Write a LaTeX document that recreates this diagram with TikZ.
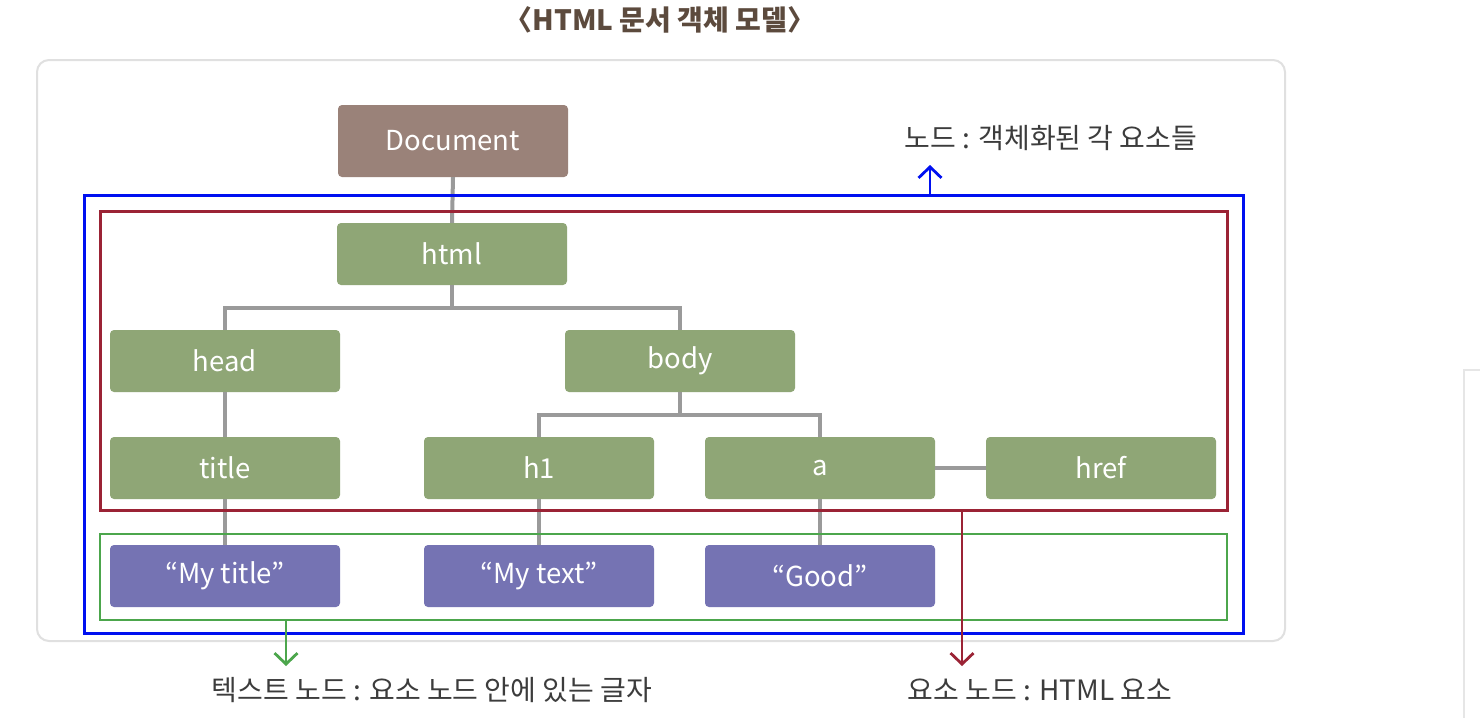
\documentclass[tikz,border=0pt]{standalone}
\usepackage{fontspec}
\setmainfont{Noto Sans CJK KR}
\usetikzlibrary{arrows.meta}
\definecolor{gnode}{HTML}{8FA676}
\definecolor{pnode}{HTML}{7573B3}
\definecolor{dnode}{HTML}{9A8279}
\definecolor{conn}{HTML}{9A9A9A}
\definecolor{frameblue}{HTML}{0010F0}
\definecolor{framered}{HTML}{9B2335}
\definecolor{framegreen}{HTML}{4CA64C}
\definecolor{titlebrown}{HTML}{5C4A3D}
\definecolor{labelgray}{HTML}{3C3C3C}
\definecolor{panelgray}{HTML}{E0E0E0}
\tikzset{
  box/.style={rounded corners=4pt, minimum width=230pt, minimum height=62pt, inner sep=0pt, text=white, font=\fontsize{27.5}{32}\selectfont},
  elem/.style={box, fill=gnode},
  txt/.style={box, fill=pnode},
  docbox/.style={box, fill=dnode, minimum height=72pt},
  link/.style={draw=conn, line width=4pt},
  note/.style={text=labelgray, font=\fontsize{28}{32}\selectfont, inner sep=0pt},
  tip/.style={-{Straight Barb[length=11pt,width=23pt,line width=2.8pt]}}
}
\begin{document}
\begin{tikzpicture}[x=1pt,y=-1pt]
\useasboundingbox (0,0) rectangle (1480,718);
\fill[white] (0,0) rectangle (1480,718);
% panel
\draw[panelgray, line width=2pt, rounded corners=12pt] (37,60) rectangle (1285,641);
\draw[panelgray!80, line width=2pt] (1480,370) -- (1464,370) -- (1464,718);
% title
\node[text=titlebrown, font=\fontsize{28}{32}\selectfont\bfseries, inner sep=0pt] (ttl) at (660,20) {〈HTML 문서 객체 모델〉};
% nodes
\node[docbox] (doc) at (453,141) {Document};
\node[elem] (html) at (452,254) {html};
\node[elem] (head) at (225,361) {head};
\node[elem] (body) at (680,361) {body};
\node[elem] (title) at (225,468) {title};
\node[elem] (h1) at (539,468) {h1};
\node[elem] (a) at (820,468) {a};
\node[elem] (href) at (1101,468) {href};
\node[txt] (mytitle) at (225,576) {“My title”};
\node[txt] (mytext) at (539,576) {“My text”};
\node[txt] (good) at (820,576) {“Good”};
% connectors
\draw[link] (doc.south) -- (html.north);
\draw[link] (html.south) -- ++(0,23) -| (head.north);
\draw[link] (html.south) -- ++(0,23) -| (body.north);
\draw[link] (head.south) -- (title.north);
\draw[link] (body.south) -- ++(0,23) -| (h1.north);
\draw[link] (body.south) -- ++(0,23) -| (a.north);
\draw[link] (a.east) -- (href.west);
\draw[link] (title.south) -- (mytitle.north);
\draw[link] (h1.south) -- (mytext.north);
\draw[link] (a.south) -- (good.north);
% frames
\draw[frameblue, line width=3pt] (84,195) rectangle (1243,633);
\draw[framered, line width=3pt] (100,211) rectangle (1227,510);
\draw[framegreen, line width=2.5pt] (100,534) rectangle (1227,620);
% frame anchors
\coordinate (bluetop) at (930,195);
\coordinate (greenbot) at (286,620);
\coordinate (redbot) at (962,510);
% notes
\node[note] (nnode) at (1051,138) {노드 : 객체화된 각 요소들};
\node[note] (ntext) at (432,690) {텍스트 노드 : 요소 노드 안에 있는 글자};
\node[note] (nelem) at (1040,690) {요소 노드 : HTML 요소};
% arrows
\draw[frameblue, line width=2.8pt, tip] (bluetop) -- (930,165);
\draw[framegreen, line width=2.8pt, tip] (greenbot) -- (286,666);
\draw[framered, line width=2.8pt, tip] (redbot) -- (962,666);
\end{tikzpicture}
\end{document}
